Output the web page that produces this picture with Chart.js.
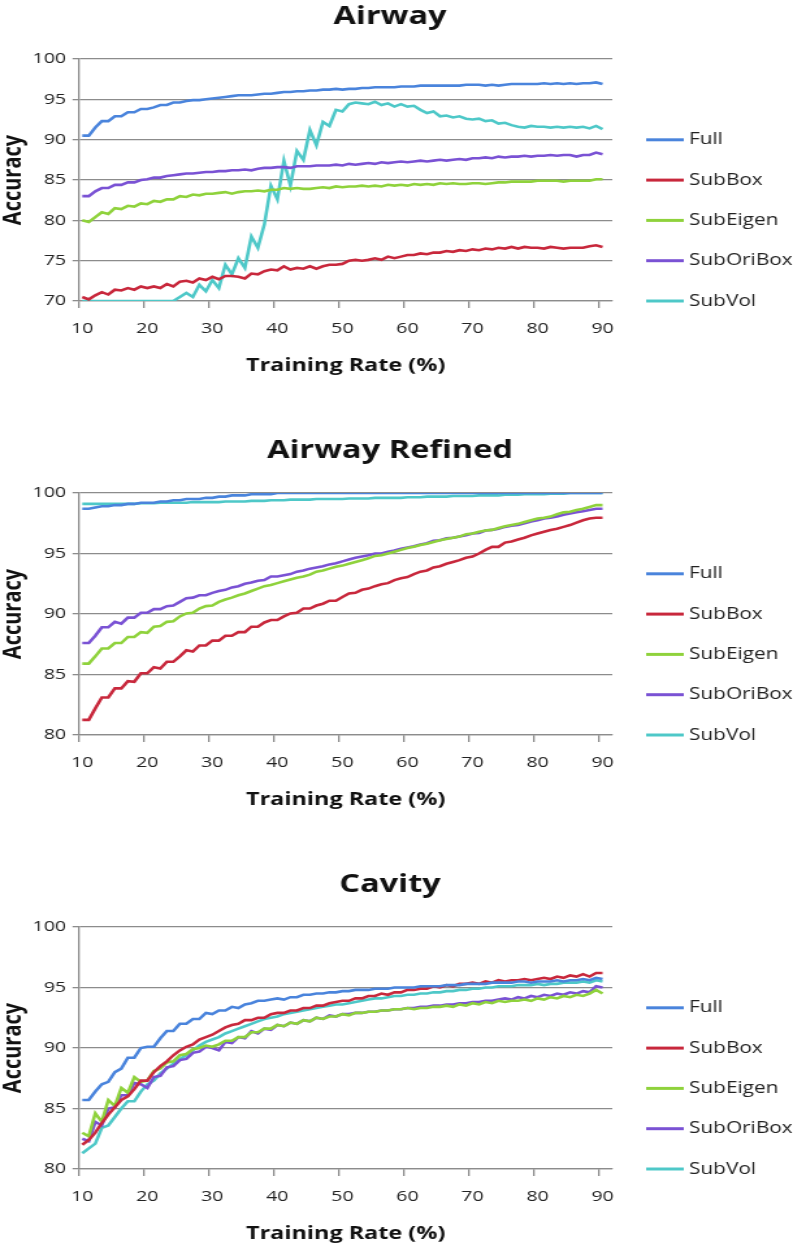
<!DOCTYPE html>
<html><head><meta charset="utf-8">
<script src="https://cdn.jsdelivr.net/npm/chart.js@4.4.1/dist/chart.umd.min.js"></script>
<style>
html,body{margin:0;padding:0;background:#fff;overflow:hidden;width:793px;height:1245px;}
.panel{position:absolute;left:0;width:610px;height:434px;transform:scaleX(1.3);transform-origin:0 0;}
</style></head><body>
<div class="panel" style="top:0px"><canvas id="c1" width="610" height="434"></canvas></div>
<div class="panel" style="top:434px"><canvas id="c2" width="610" height="434"></canvas></div>
<div class="panel" style="top:868px"><canvas id="c3" width="610" height="434"></canvas></div>
<script>
const categories=[10,11,12,13,14,15,16,17,18,19,20,21,22,23,24,25,26,27,28,29,30,31,32,33,34,35,36,37,38,39,40,41,42,43,44,45,46,47,48,49,50,51,52,53,54,55,56,57,58,59,60,61,62,63,64,65,66,67,68,69,70,71,72,73,74,75,76,77,78,79,80,81,82,83,84,85,86,87,88,89,90,91];
const seriesNames=['Full','SubBox','SubEigen','SubOriBox','SubVol'];
const chartTitles=['Airway','Airway Refined','Cavity'];
const xTitle='Training Rate (%)';
const yTitle='Accuracy';

const airwayFull=[90.5,90.5,91.5,92.3,92.3,92.9,92.9,93.4,93.4,93.8,
93.8,94.0,94.3,94.3,94.6,94.6,94.8,94.9,94.9,95.0,
95.1,95.2,95.3,95.4,95.5,95.5,95.5,95.6,95.7,95.7,
95.8,95.9,95.9,96.0,96.0,96.1,96.1,96.2,96.2,96.3,
96.2,96.3,96.3,96.4,96.4,96.5,96.5,96.5,96.5,96.6,
96.6,96.6,96.7,96.7,96.7,96.7,96.7,96.7,96.7,96.8,
96.8,96.8,96.7,96.8,96.7,96.8,96.9,96.9,96.9,96.9,
96.9,97.0,96.9,97.0,96.9,97.0,96.9,97.0,97.0,97.1,
96.9];
const airwaySubBox=[70.5,70.2,70.7,71.1,70.8,71.4,71.3,71.6,71.4,71.8,
71.6,71.8,71.6,72.1,71.8,72.4,72.5,72.3,72.8,72.6,
73.0,72.7,73.1,73.1,73.0,72.8,73.4,73.3,73.7,73.9,
73.8,74.3,73.9,74.1,74.0,74.3,74.0,74.3,74.5,74.5,
74.6,75.0,75.1,75.0,75.1,75.3,75.1,75.5,75.3,75.5,
75.7,75.7,75.9,75.8,76.0,76.0,76.2,76.1,76.3,76.2,
76.4,76.3,76.5,76.4,76.6,76.5,76.7,76.5,76.7,76.6,
76.6,76.5,76.7,76.6,76.5,76.6,76.6,76.6,76.8,76.9,
76.7];
const airwaySubEigen=[80.0,79.8,80.4,81.0,80.8,81.5,81.4,81.8,81.7,82.1,
82.0,82.4,82.3,82.6,82.6,83.0,82.9,83.2,83.1,83.3,
83.3,83.4,83.5,83.3,83.5,83.6,83.6,83.7,83.6,83.8,
83.8,84.0,83.9,84.0,83.9,83.9,84.0,84.1,84.0,84.2,
84.1,84.2,84.2,84.3,84.2,84.3,84.2,84.4,84.3,84.4,
84.3,84.5,84.4,84.5,84.4,84.6,84.5,84.6,84.5,84.5,
84.6,84.6,84.5,84.6,84.7,84.7,84.8,84.8,84.8,84.8,
84.9,84.9,84.9,84.9,84.8,84.9,84.9,84.9,84.9,85.1,
85.1];
const airwaySubOriBox=[83.0,83.0,83.6,84.0,84.0,84.4,84.4,84.7,84.7,85.0,
85.1,85.3,85.3,85.5,85.6,85.7,85.8,85.8,85.9,86.0,
86.0,86.1,86.1,86.2,86.2,86.3,86.2,86.4,86.5,86.5,
86.6,86.6,86.5,86.7,86.7,86.7,86.8,86.8,86.8,86.9,
86.8,87.0,86.9,87.0,87.1,87.0,87.2,87.1,87.2,87.3,
87.2,87.3,87.4,87.3,87.4,87.5,87.4,87.5,87.6,87.5,
87.7,87.7,87.8,87.7,87.9,87.8,87.9,87.9,88.0,87.9,
88.0,88.0,88.1,88.0,88.1,88.1,87.9,88.1,88.1,88.4,
88.2];
const airwaySubVol=[70,70,70,70,70,70,70,70,70,70,
70,70,70,70,70,70.5,71.0,70.5,72.0,71.2,
72.6,71.6,74.5,73.3,75.3,74.1,78.0,76.6,79.5,84.3,
82.6,87.4,84.3,88.6,87.5,91.2,89.3,92.2,91.7,93.7,
93.5,94.4,94.6,94.5,94.4,94.7,94.3,94.5,94.1,94.4,
94.1,94.2,93.7,93.3,93.5,92.9,93.0,92.75,92.9,92.6,
92.5,92.6,92.3,92.4,92.0,92.1,91.8,91.6,91.5,91.7,
91.6,91.6,91.5,91.6,91.5,91.6,91.5,91.6,91.4,91.7,
91.3];

const refinedFull=[98.7,98.7,98.8,98.9,98.9,99.0,99.0,99.1,99.1,99.2,
99.2,99.2,99.3,99.3,99.4,99.4,99.5,99.5,99.5,99.6,
99.6,99.7,99.7,99.8,99.8,99.8,99.9,99.9,99.9,99.9,
100,100,100,100,100,100,100,100,100,100,
100,100,100,100,100,100,100,100,100,100,
100,100,100,100,100,100,100,100,100,100,
100,100,100,100,100,100,100,100,100,100,
100,100,100,100,100,100,100,100,100,100,
100];
const refinedSubBox=[81.25,81.25,82.2,83.1,83.1,83.85,83.85,84.45,84.4,85.1,
85.1,85.6,85.5,86.05,86.05,86.5,87.0,86.9,87.4,87.4,
87.8,87.8,88.2,88.2,88.5,88.5,88.95,88.95,89.3,89.5,
89.5,89.8,90.05,90.1,90.45,90.45,90.7,90.85,91.1,91.1,
91.4,91.7,91.75,92.0,92.1,92.3,92.45,92.55,92.8,92.95,
93.05,93.3,93.5,93.6,93.85,93.95,94.15,94.3,94.45,94.65,
94.75,95.0,95.3,95.55,95.55,95.9,96.0,96.15,96.3,96.5,
96.65,96.8,96.95,97.05,97.2,97.35,97.55,97.75,97.9,97.95,
97.95];
const refinedSubEigen=[85.9,85.9,86.5,87.15,87.15,87.6,87.6,88.1,88.1,88.5,
88.45,88.95,89.0,89.35,89.4,89.8,90.05,90.1,90.45,90.65,
90.7,91.0,91.2,91.35,91.55,91.7,91.9,92.1,92.3,92.4,
92.55,92.7,92.85,93.0,93.1,93.25,93.5,93.6,93.75,93.9,
94.0,94.15,94.3,94.45,94.6,94.8,94.85,95.0,95.15,95.3,
95.45,95.55,95.7,95.8,95.95,96.1,96.2,96.3,96.4,96.6,
96.65,96.8,96.9,96.95,97.1,97.25,97.35,97.45,97.6,97.75,
97.9,97.95,98.05,98.25,98.4,98.45,98.6,98.7,98.85,99.0,
99.0];
const refinedSubOriBox=[87.6,87.6,88.2,88.9,88.9,89.35,89.2,89.7,89.7,90.1,
90.1,90.4,90.4,90.65,90.7,91.0,91.3,91.35,91.55,91.55,
91.75,91.9,92.0,92.2,92.3,92.5,92.6,92.75,92.8,93.1,
93.1,93.2,93.3,93.5,93.6,93.75,93.85,93.95,94.1,94.2,
94.35,94.5,94.65,94.75,94.85,95.0,95.0,95.15,95.25,95.4,
95.5,95.6,95.75,95.85,96.05,96.1,96.25,96.3,96.4,96.5,
96.65,96.7,96.9,96.95,97.05,97.2,97.3,97.35,97.5,97.65,
97.75,97.9,97.95,98.05,98.2,98.3,98.4,98.5,98.6,98.7,
98.7];
const refinedSubVol=[99.1,99.1,99.1,99.1,99.1,99.1,99.1,99.1,99.1,99.15,
99.15,99.15,99.2,99.2,99.2,99.2,99.2,99.25,99.25,99.25,
99.25,99.25,99.3,99.3,99.3,99.3,99.35,99.35,99.35,99.4,
99.4,99.4,99.45,99.45,99.45,99.45,99.5,99.5,99.5,99.5,
99.5,99.55,99.55,99.55,99.55,99.6,99.6,99.6,99.6,99.6,
99.65,99.65,99.65,99.7,99.7,99.7,99.7,99.75,99.75,99.75,
99.75,99.8,99.8,99.8,99.8,99.85,99.85,99.85,99.9,99.9,
99.9,99.9,99.95,99.95,99.95,100,100,100,100,100,
100];

const cavityFull=[85.7,85.7,86.4,87.0,87.2,88.0,88.3,89.2,89.2,90.0,
90.1,90.1,90.8,91.4,91.4,92.0,92.0,92.4,92.4,92.9,
92.8,93.1,93.1,93.4,93.3,93.6,93.7,93.9,93.9,94.0,
94.1,94.0,94.2,94.2,94.4,94.4,94.5,94.5,94.6,94.6,
94.7,94.7,94.8,94.8,94.8,94.9,94.9,94.9,95.0,95.0,
95.0,95.0,95.1,95.1,95.1,95.1,95.2,95.2,95.2,95.3,
95.3,95.3,95.3,95.4,95.4,95.4,95.4,95.5,95.5,95.4,
95.5,95.5,95.5,95.6,95.5,95.6,95.6,95.7,95.6,95.8,
95.7];
const cavitySubBox=[82.0,82.4,83.0,83.8,84.5,85.1,85.7,86.0,86.6,87.3,
87.3,88.0,88.5,88.9,89.4,89.8,90.1,90.3,90.7,90.9,
91.1,91.4,91.7,91.9,92.0,92.3,92.3,92.5,92.5,92.8,
92.9,92.9,93.1,93.1,93.3,93.3,93.5,93.5,93.7,93.8,
93.9,93.9,94.1,94.1,94.3,94.3,94.5,94.4,94.6,94.6,
94.8,94.8,94.9,94.9,95.1,95.0,95.2,95.1,95.3,95.3,
95.4,95.3,95.5,95.4,95.6,95.5,95.6,95.6,95.7,95.6,
95.7,95.8,95.7,95.9,95.8,96.0,95.9,96.1,95.9,96.2,
96.2];
const cavitySubEigen=[83.0,82.7,84.6,83.9,85.7,85.2,86.7,86.3,87.6,87.2,
87.3,88.1,88.3,88.8,88.9,89.4,89.5,89.9,90.0,90.2,
90.1,90.3,90.6,90.6,90.9,90.9,91.3,91.3,91.6,91.6,
91.9,91.8,92.1,92.0,92.3,92.2,92.5,92.4,92.6,92.6,
92.8,92.7,92.9,92.9,93.0,93.0,93.1,93.1,93.2,93.2,
93.3,93.2,93.3,93.3,93.4,93.4,93.5,93.4,93.6,93.5,
93.7,93.6,93.8,93.7,93.9,93.8,93.9,93.9,94.0,93.9,
94.1,94.0,94.2,94.1,94.3,94.2,94.4,94.3,94.5,94.8,
94.5];
const cavitySubOriBox=[82.5,82.3,83.9,83.6,85.0,85.1,86.1,86.1,87.1,87.0,
86.7,87.6,87.7,88.4,88.5,89.0,89.1,89.6,89.7,90.1,
90.0,89.8,90.5,90.4,90.9,90.8,91.4,91.2,91.6,91.5,
91.9,91.8,92.1,92.0,92.3,92.2,92.5,92.4,92.7,92.6,
92.8,92.8,92.9,92.9,93.0,93.0,93.1,93.1,93.2,93.2,
93.3,93.3,93.4,93.4,93.5,93.5,93.6,93.6,93.7,93.7,
93.8,93.8,93.9,93.9,94.0,94.1,94.0,94.2,94.1,94.3,
94.2,94.4,94.3,94.5,94.4,94.6,94.5,94.7,94.6,95.1,
95.0];
const cavitySubVol=[81.3,81.7,82.1,83.4,83.6,84.3,85.0,85.6,85.6,86.4,
87.0,87.3,87.9,88.3,88.7,89.1,89.4,89.8,90.2,90.5,
90.7,90.9,91.2,91.4,91.6,91.8,92.0,92.2,92.4,92.5,
92.6,92.8,92.9,93.0,93.1,93.2,93.3,93.4,93.5,93.6,
93.6,93.7,93.8,93.9,94.0,94.1,94.1,94.2,94.3,94.3,
94.4,94.4,94.5,94.5,94.6,94.6,94.7,94.7,94.8,94.8,
94.9,94.9,95.0,95.0,95.1,95.1,95.1,95.2,95.2,95.2,
95.3,95.2,95.3,95.3,95.4,95.4,95.4,95.5,95.4,95.6,
95.5];

const yRanges=[[70,100],[80,100],[80,100]];
const yStep=5;

const seriesColors=['#4a84dc','#c8283c','#8fd23c','#7a52d4','#4ec8c8'];
const GRID='#8c8c8c';
const FONT='"Open Sans", "Liberation Sans", sans-serif';

const textPlugin={
  id:'excelText',
  afterDraw(chart,args,opts){
    const ctx=chart.ctx, a=chart.chartArea;
    ctx.save();
    ctx.fillStyle='#111';
    ctx.textAlign='center';
    ctx.textBaseline='alphabetic';
    ctx.font='bold 25px '+FONT;
    ctx.fillText(opts.title,300,24);
    ctx.font='bold 18px '+FONT;
    ctx.fillText(opts.xTitle,(a.left+a.right)/2,371);
    ctx.save();
    ctx.translate(10,(a.top+a.bottom)/2);
    ctx.rotate(-Math.PI/2);
    ctx.textBaseline='middle';
    ctx.font='bold 20px '+FONT;
    ctx.fillText(opts.yTitle,0,0);
    ctx.restore();
    const n=chart.data.datasets.length;
    chart.data.datasets.forEach((ds,i)=>{
      const y=a.bottom-(n-1-i)*40.3;
      ctx.strokeStyle=ds.borderColor;
      ctx.lineWidth=3;
      ctx.beginPath();ctx.moveTo(497,y);ctx.lineTo(526,y);ctx.stroke();
      ctx.fillStyle='#222';
      ctx.textAlign='left';
      ctx.textBaseline='middle';
      ctx.font='16px '+FONT;
      ctx.fillText(ds.label,530,y);
    });
    ctx.restore();
  }
};

function makeChart(id,idx,series){
  const [mn,mx]=yRanges[idx];
  return new Chart(document.getElementById(id),{
    type:'line',
    data:{labels:categories,datasets:series.map((d,i)=>({label:seriesNames[i],data:d,borderColor:seriesColors[i],backgroundColor:seriesColors[i],borderWidth:2.6,pointRadius:0,pointHoverRadius:0,tension:0,fill:false}))},
    options:{
      responsive:false,animation:false,devicePixelRatio:1,
      layout:{padding:{left:0,top:59,right:139,bottom:93}},
      plugins:{legend:{display:false},tooltip:{enabled:false},title:{display:false},
        excelText:{title:chartTitles[idx],xTitle:xTitle,yTitle:yTitle}},
      scales:{
        x:{type:'category',offset:true,
          grid:{offset:true,drawOnChartArea:false,drawTicks:true,tickLength:7,lineWidth:1.3,
            color:c=>(c.index!==undefined&&c.index%10===0)?GRID:'rgba(0,0,0,0)'},
          border:{display:true,color:GRID,width:1.3},
          ticks:{autoSkip:false,maxRotation:0,minRotation:0,padding:12,color:'#222',font:{family:FONT,size:15},
            callback:(v,i)=>i%10===0?String(categories[i]):''},
          afterFit:s=>{s.height=40;}},
        y:{min:mn,max:mx,
          ticks:{stepSize:yStep,padding:5,color:'#222',font:{family:FONT,size:15}},
          grid:{color:GRID,lineWidth:1.3,tickLength:5,drawTicks:true},
          border:{display:true,color:GRID,width:1.3},
          afterFit:s=>{s.width=60.8;}}
      }
    },
    plugins:[textPlugin]
  });
}
makeChart('c1',0,[airwayFull,airwaySubBox,airwaySubEigen,airwaySubOriBox,airwaySubVol]);
makeChart('c2',1,[refinedFull,refinedSubBox,refinedSubEigen,refinedSubOriBox,refinedSubVol]);
makeChart('c3',2,[cavityFull,cavitySubBox,cavitySubEigen,cavitySubOriBox,cavitySubVol]);
</script>
</body></html>
